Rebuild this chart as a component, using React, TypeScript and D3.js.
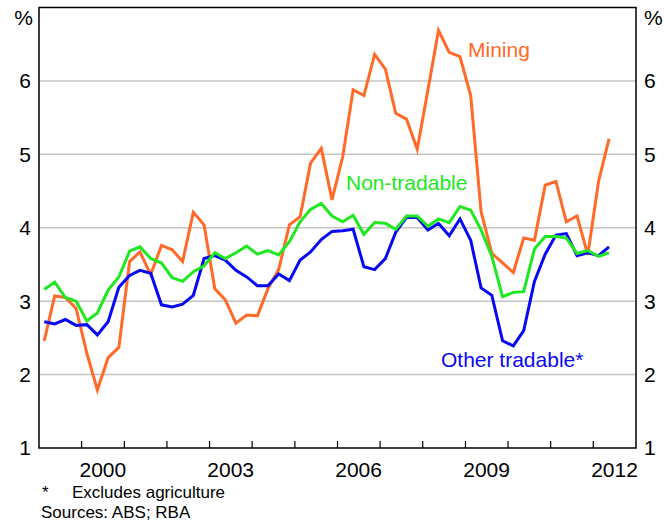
import * as d3 from "d3";
import { useEffect, useRef } from "react";

// quarterly, 1999 Q1 to 2012 Q2, per cent
const startYear = 1999;
const mining = [
  2.46, 3.07, 3.05, 2.9, 2.29, 1.79, 2.23, 2.37, 3.54, 3.67, 3.36, 3.76, 3.7, 3.54,
  4.21, 4.04, 3.17, 3.02, 2.7, 2.81, 2.8, 3.17, 3.43, 4.04, 4.15, 4.88, 5.08, 4.38,
  4.97, 5.88, 5.8, 6.36, 6.16, 5.56, 5.48, 5.07, 5.88, 6.69, 6.39, 6.33, 5.8, 4.22,
  3.65, 3.52, 3.39, 3.86, 3.83, 4.58, 4.63, 4.08, 4.16, 3.63, 4.63, 5.21,
];
const nonTradable = [
  3.16, 3.26, 3.05, 3.0, 2.73, 2.84, 3.15, 3.33, 3.68, 3.74, 3.58, 3.52, 3.32, 3.27,
  3.4, 3.48, 3.66, 3.58, 3.66, 3.75, 3.64, 3.69, 3.63, 3.81, 4.08, 4.25, 4.33, 4.16,
  4.08, 4.17, 3.91, 4.07, 4.06, 3.98, 4.16, 4.16, 4.02, 4.12, 4.07, 4.29, 4.24, 3.97,
  3.61, 3.06, 3.12, 3.13, 3.71, 3.88, 3.88, 3.86, 3.65, 3.69, 3.61, 3.66,
];
const otherTradable = [
  2.72, 2.69, 2.75, 2.67, 2.68, 2.54, 2.72, 3.19, 3.35, 3.42, 3.38, 2.95, 2.92, 2.96,
  3.08, 3.58, 3.62, 3.56, 3.42, 3.33, 3.21, 3.21, 3.37, 3.28, 3.56, 3.67, 3.84, 3.95,
  3.96, 3.98, 3.47, 3.43, 3.58, 3.94, 4.14, 4.14, 3.97, 4.06, 3.89, 4.12, 3.83, 3.18,
  3.08, 2.46, 2.39, 2.6, 3.27, 3.64, 3.9, 3.92, 3.62, 3.66, 3.62, 3.74,
];
const yTicks = [1, 2, 3, 4, 5, 6];
const yearLabels = [2000, 2003, 2006, 2009, 2012];
const tickYears = d3.range(2000, 2013);

const series = [
  { name: "Mining", values: mining, color: "#ff6a28" },
  { name: "Other tradable*", values: otherTradable, color: "#0808f2" },
  { name: "Non-tradable", values: nonTradable, color: "#20e820" },
];

const W = 664;
const H = 522;
const font = "'Liberation Sans', Arial, sans-serif";

export default function App() {
  const ref = useRef<SVGSVGElement>(null);

  useEffect(() => {
    const svg = d3.select(ref.current);
    svg.selectAll("*").remove();

    const x = d3
      .scaleTime()
      .domain([new Date(1999, 0, 1), new Date(2013, 0, 1)])
      .range([39, 636]);
    const y = d3.scaleLinear().domain([1, 7]).range([448, 7.5]);

    const qDate = (i: number) => {
      const yr = startYear + Math.floor(i / 4);
      const q = i % 4;
      return new Date(yr, q * 3 + 1, 15);
    };

    // gridlines
    svg
      .append("g")
      .selectAll("line")
      .data(yTicks.slice(1))
      .join("line")
      .attr("x1", 39)
      .attr("x2", 636)
      .attr("y1", (d) => y(d))
      .attr("y2", (d) => y(d))
      .attr("stroke", "#c4c4c4")
      .attr("stroke-width", 1.5);

    // year ticks
    svg
      .append("g")
      .selectAll("line")
      .data(tickYears)
      .join("line")
      .attr("x1", (d) => x(new Date(d, 0, 1)))
      .attr("x2", (d) => x(new Date(d, 0, 1)))
      .attr("y1", 448)
      .attr("y2", 441)
      .attr("stroke", "#000")
      .attr("stroke-width", 1.2);

    const line = d3
      .line<number>()
      .x((_, i) => x(qDate(i)))
      .y((d) => y(d));

    svg
      .append("g")
      .selectAll("path")
      .data(series)
      .join("path")
      .attr("d", (d) => line(d.values))
      .attr("fill", "none")
      .attr("stroke", (d) => d.color)
      .attr("stroke-width", 3)
      .attr("stroke-linejoin", "miter");

    // frame
    svg
      .append("rect")
      .attr("x", 39)
      .attr("y", 7.5)
      .attr("width", 597)
      .attr("height", 440.5)
      .attr("fill", "none")
      .attr("stroke", "#000")
      .attr("stroke-width", 1.5);

    const txt = svg
      .append("g")
      .attr("font-family", font)
      .attr("font-size", 21)
      .attr("fill", "#000");

    txt
      .selectAll("text.yl")
      .data(yTicks)
      .join("text")
      .attr("class", "yl")
      .attr("x", 31)
      .attr("y", (d) => y(d))
      .attr("dy", "0.35em")
      .attr("text-anchor", "end")
      .text((d) => d);
    txt
      .selectAll("text.yr")
      .data(yTicks)
      .join("text")
      .attr("class", "yr")
      .attr("x", 644)
      .attr("y", (d) => y(d))
      .attr("dy", "0.35em")
      .text((d) => d);
    txt.append("text").attr("x", 33).attr("y", 25).attr("text-anchor", "end").text("%");
    txt.append("text").attr("x", 644).attr("y", 25).text("%");

    txt
      .selectAll("text.xl")
      .data(yearLabels)
      .join("text")
      .attr("class", "xl")
      .attr("x", (d) => x(new Date(d, 6, 1)))
      .attr("y", 477)
      .attr("text-anchor", "middle")
      .text((d) => d);

    // series labels
    const labels = [
      { text: "Mining", x: 468, y: 57, color: series[0].color },
      { text: "Non-tradable", x: 346, y: 190, color: series[2].color },
      { text: "Other tradable*", x: 441, y: 367, color: series[1].color },
    ];
    txt
      .selectAll("text.sl")
      .data(labels)
      .join("text")
      .attr("class", "sl")
      .attr("x", (d) => d.x)
      .attr("y", (d) => d.y)
      .attr("fill", (d) => d.color)
      .text((d) => d.text);

    const foot = svg
      .append("g")
      .attr("font-family", font)
      .attr("font-size", 17)
      .attr("fill", "#000");
    foot.append("text").attr("x", 42).attr("y", 498).text("*");
    foot.append("text").attr("x", 72).attr("y", 498).text("Excludes agriculture");
    foot.append("text").attr("x", 41).attr("y", 518).text("Sources: ABS; RBA");
  }, []);

  return (
    <svg
      ref={ref}
      width={W}
      height={H}
      style={{ position: "absolute", left: 0, top: 0, background: "#fff" }}
    />
  );
}
